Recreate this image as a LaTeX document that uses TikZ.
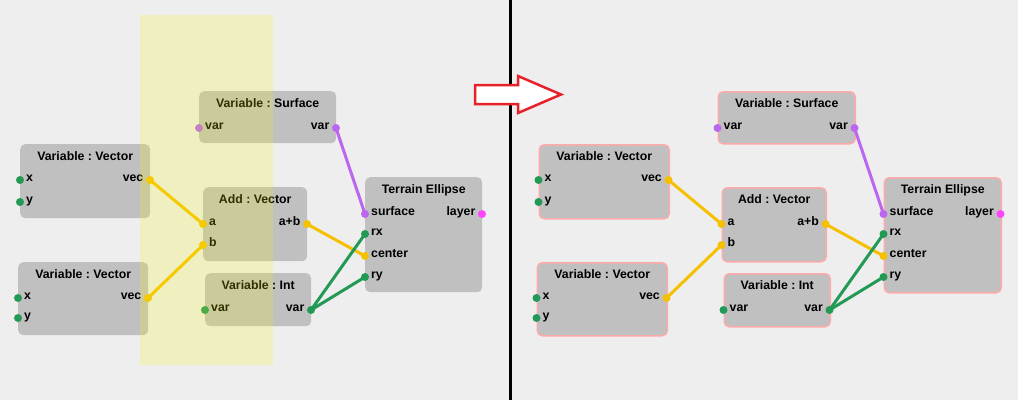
\documentclass[tikz,border=0pt]{standalone}
\usepackage{fontspec}
\setmainfont{Liberation Sans}
\usetikzlibrary{calc}
\frenchspacing
\definecolor{bg}{HTML}{EEEEEE}
\definecolor{nodegray}{HTML}{C0C0C0}
\definecolor{pgreen}{HTML}{229955}
\definecolor{pyellow}{HTML}{F5C000}
\definecolor{ppurple}{HTML}{BB66EE}
\definecolor{pmag}{HTML}{FF44FF}
\definecolor{selyel}{RGB}{248,248,0}
\definecolor{pinkb}{HTML}{FFAAAA}
\definecolor{arrowred}{HTML}{E8202A}
\tikzset{
  blk/.style={fill=nodegray, rounded corners=5pt, inner sep=0pt, anchor=north west},
  blkL/.style={blk, draw=none},
  blkR/.style={blk, draw=pinkb, line width=1.5pt},
  ttl/.style={font=\fontsize{12.3}{14}\selectfont\bfseries\frenchspacing, inner sep=0pt},
  plab/.style={font=\fontsize{12.3}{14}\selectfont\bfseries, inner sep=0pt},
  wire/.style={draw=#1, line width=3pt},
  selbox/.style={fill=selyel, fill opacity=0.193, draw=none},
  bigarrow/.style={draw=arrowred, fill=white, line width=2.5pt, line join=miter},
}
\newcommand\mkblk[7]{%
  \node[#1, minimum width=#5pt, minimum height=#6pt] (#2) at (#3,#4) {};
  \node[ttl, anchor=base] (#2-t) at ($(#2.north)+(0,16)$) {#7};}
\newcommand\lport[5]{%
  \node[plab, anchor=base west] (#1-l) at (#2+6,#3+1.5) {#5};
  \coordinate (#1) at (#2,#3);}
\newcommand\rport[5]{%
  \node[plab, anchor=base east] (#1-l) at (#2-6.5,#3+1.5) {#5};
  \coordinate (#1) at (#2,#3);}
\newcommand\drawpanel[3]{%
\begin{scope}[xshift=#3pt]
  \mkblk{#2}{#1-v1}{20}{144}{130}{74}{Variable : Vector}
  \mkblk{#2}{#1-v2}{18}{262}{130}{73}{Variable : Vector}
  \mkblk{#2}{#1-sf}{199}{91}{137}{52}{Variable : Surface}
  \mkblk{#2}{#1-ad}{203}{187}{104}{74}{Add : Vector}
  \mkblk{#2}{#1-in}{205}{273}{106}{53}{Variable : Int}
  \mkblk{#2}{#1-te}{365}{177}{117}{115}{Terrain Ellipse}
  \lport{#1-v1-x}{20}{180}{pgreen}{x}
  \lport{#1-v1-y}{20}{202}{pgreen}{y}
  \rport{#1-v1-vec}{150}{180}{pyellow}{vec}
  \lport{#1-v2-x}{18}{298}{pgreen}{x}
  \lport{#1-v2-y}{18}{318}{pgreen}{y}
  \rport{#1-v2-vec}{148}{298}{pyellow}{vec}
  \lport{#1-sf-in}{199}{128}{ppurple}{var}
  \rport{#1-sf-out}{336}{128}{ppurple}{var}
  \lport{#1-ad-a}{203}{224}{pyellow}{a}
  \lport{#1-ad-b}{203}{245}{pyellow}{b}
  \rport{#1-ad-ab}{307}{224}{pyellow}{a+b}
  \lport{#1-in-in}{205}{310}{pgreen}{var}
  \rport{#1-in-out}{311}{310}{pgreen}{var}
  \lport{#1-te-sf}{365}{214}{ppurple}{surface}
  \lport{#1-te-rx}{365}{234}{pgreen}{rx}
  \lport{#1-te-ce}{365}{256}{pyellow}{center}
  \lport{#1-te-ry}{365}{277}{pgreen}{ry}
  \rport{#1-te-ly}{482}{214}{pmag}{layer}
  \draw[wire=pyellow] (#1-v1-vec) -- (#1-ad-a);
  \draw[wire=pyellow] (#1-v2-vec) -- (#1-ad-b);
  \draw[wire=pyellow] (#1-ad-ab) -- (#1-te-ce);
  \draw[wire=ppurple] (#1-sf-out) -- (#1-te-sf);
  \draw[wire=pgreen] (#1-in-out) -- (#1-te-rx);
  \draw[wire=pgreen] (#1-in-out) -- (#1-te-ry);
  \foreach \n/\c in {v1-x/pgreen,v1-y/pgreen,v1-vec/pyellow,v2-x/pgreen,v2-y/pgreen,v2-vec/pyellow,
      sf-in/ppurple,sf-out/ppurple,ad-a/pyellow,ad-b/pyellow,ad-ab/pyellow,in-in/pgreen,in-out/pgreen,
      te-sf/ppurple,te-rx/pgreen,te-ce/pyellow,te-ry/pgreen,te-ly/pmag}
    {\fill[\c] (#1-\n) circle (4pt);}
\end{scope}}
\begin{document}
\begin{tikzpicture}[x=1pt,y=-1pt]
  \fill[bg] (0,0) rectangle (1018,400);
  \useasboundingbox (0,0) rectangle (1018,400);
  \drawpanel{L}{blkL}{0}
  \drawpanel{R}{blkR}{518.5}
  \node[selbox, anchor=north west, minimum width=133pt, minimum height=350pt, inner sep=0pt] (sel) at (140,15) {};
  \coordinate (divtop) at (510,0);
  \coordinate (divbot) at (510,400);
  \draw[black, line width=3pt] (divtop) -- (divbot);
  \draw[bigarrow] (475,85) -- (518,85) -- (518,76) -- (561,94.5) -- (518,113) -- (518,104) -- (475,104) -- cycle;
\end{tikzpicture}
\end{document}
